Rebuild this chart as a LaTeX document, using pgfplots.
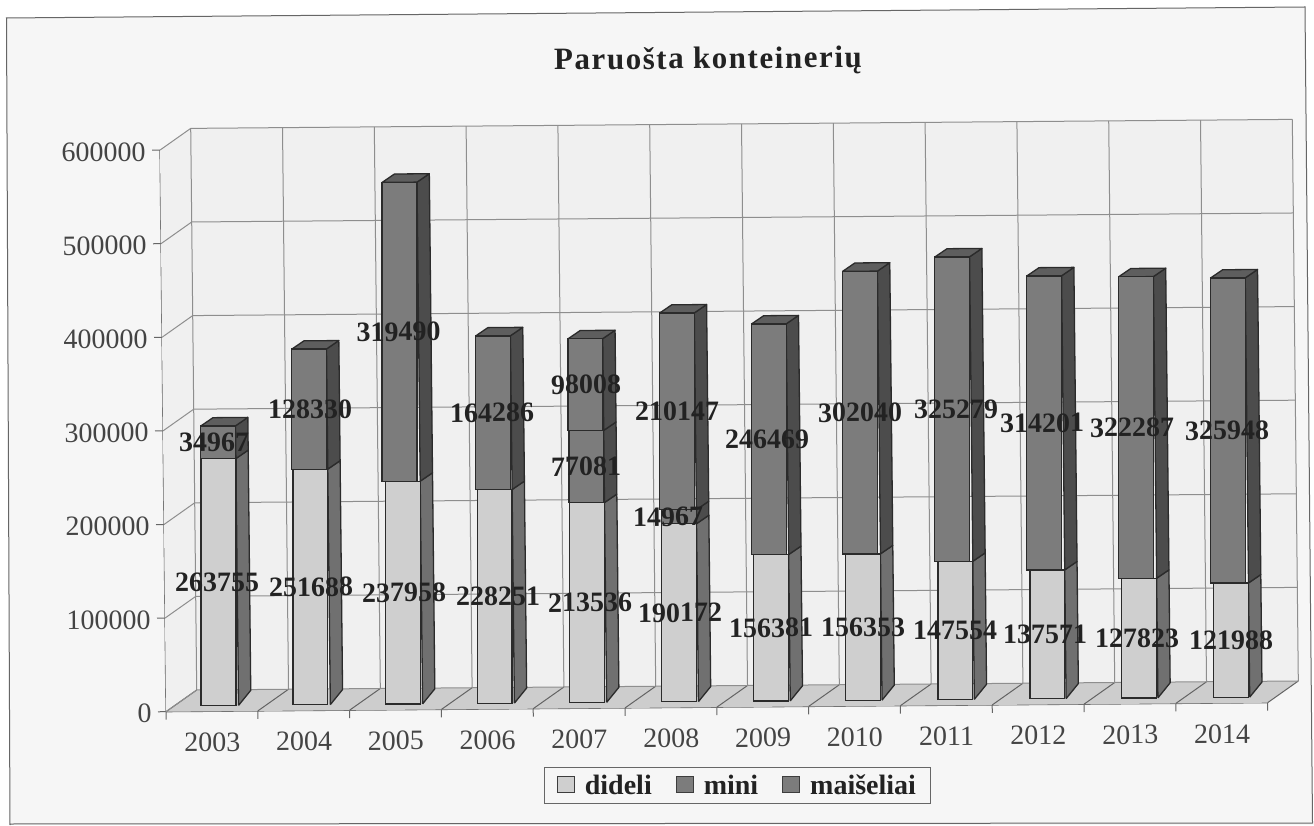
\documentclass[border=0pt]{standalone}
\usepackage{pgfplots}
\usepackage{pgfplotstable}
\usepackage{fontspec}
\setmainfont{Liberation Serif}
\pgfplotsset{compat=1.18}
\definecolor{bgc}{HTML}{F6F6F6}
\definecolor{wallc}{HTML}{F0F0F0}
\definecolor{floorc}{HTML}{CDCDCD}
\definecolor{gridc}{HTML}{8E8E8E}
\definecolor{axc}{HTML}{666666}
\definecolor{edgec}{HTML}{2B2B2B}
\definecolor{lightf}{HTML}{CFCFCF}
\definecolor{lights}{HTML}{707070}
\definecolor{darkf}{HTML}{7C7C7C}
\definecolor{darks}{HTML}{4C4C4C}
\definecolor{topc}{HTML}{5E5E5E}
\definecolor{txtc}{HTML}{444444}
\definecolor{lblc}{HTML}{222222}
\newcommand\bigf{\fontsize{28}{30}\selectfont}
% stacked values: dideli, mini, maiseliai
\pgfplotstableread{
x      d      m      s
0.600  263755 34967  0
1.600  251688 128330 0
2.605  237958 319490 0
3.605  228251 164286 0
4.610  213536 77081  98008
5.610  190172 14967  210147
6.610  156381 0      246469
7.610  156353 0      302040
8.615  147554 0      325279
9.615  137571 0      314201
10.615 127823 0      322287
11.615 121988 0      325948
}\barsdata
% label positions: x, y at the middle of the segment, text
\pgfplotstableread{
x      y      label
0.570  131878 263755
0.553  281240 34967
1.593  125844 251688
1.603  315853 128330
2.606  118979 237958
2.576  397703 319490
3.629  114126 228251
3.585  310394 164286
4.630  106768 213536
4.603  252077 77081
4.612  339621 98008
5.609  95086  190172
5.490  197656 14967
5.600  310210 210147
6.599  78190  156381
6.577  279616 246469
7.601  78180  156353
7.593  307373 302040
8.603  73777  147554
8.639  310194 325279
9.583  68786  137571
9.575  294672 314201
10.584 63912  127823
10.554 288967 322287
11.608 60994  121988
11.589 284962 325948
}\labelsdata
\pgfplotsset{base/.style={x={(91.8pt,0.75pt)},y={(-0.01pt,0.936pt)},xmin=0,xmax=12,ymin=0,ymax=600,clip=false,anchor=origin}}
\newcommand\FaceSide[5]{% x, low, high, extra rise at low, colour
  \edef\xa{\fpeval{#1+0.2}}\edef\xb{\fpeval{#1+0.335}}
  \edef\ya{\fpeval{(#2)/1000}}\edef\yb{\fpeval{(#2)/1000+#4}}
  \edef\yc{\fpeval{(#3)/1000+8.87}}\edef\yd{\fpeval{(#3)/1000}}
  \addplot[draw=edgec,line width=1.3pt,fill=#5,forget plot,line join=round] coordinates {(\xa,\ya)(\xb,\yb)(\xb,\yc)(\xa,\yd)(\xa,\ya)};
}
\newcommand\FaceTop[2]{% x, total
  \edef\xa{\fpeval{#1-0.18}}\edef\xb{\fpeval{#1+0.2}}\edef\xc{\fpeval{#1+0.335}}\edef\xd{\fpeval{#1-0.045}}
  \edef\ya{\fpeval{(#2)/1000}}\edef\yb{\fpeval{(#2)/1000+8.87}}
  \addplot[draw=edgec,line width=1.3pt,fill=topc,forget plot,line join=round] coordinates {(\xa,\ya)(\xb,\ya)(\xc,\yb)(\xd,\yb)(\xa,\ya)};
}
\newcommand\BarFaces[4]{% x, d, m, s
  \FaceSide{#1}{0}{#2}{16}{lights}
  \ifnum#3>0 \FaceSide{#1}{#2}{#2+#3}{8.87}{darks}\fi
  \ifnum#4>0 \FaceSide{#1}{#2+#3}{#2+#3+#4}{8.87}{darks}\fi
  \FaceTop{#1}{#2+#3+#4}
}
\begin{document}
\begin{tikzpicture}[x=1pt,y=1pt]
\path[use as bounding box,fill=white] (0,0) rectangle (1314,825);
\fill[bgc] (6.5,807) -- (1305,818) -- (1312.5,2) -- (1314,0) -- (10,0) -- cycle;
\draw[color=axc,line width=1pt] (10,0) -- (6.5,807) -- (1305,818) -- (1312.5,2) -- (10,1);
\node[font=\bfseries\fontsize{31}{33}\selectfont\addfontfeatures{LetterSpace=5},text=lblc,rotate=0.4] at (708,764) {Paruošta konteinerių};
% walls, floor, grid, axes
\begin{axis}[base,at={(166pt,113.3pt)},
  axis lines*=left,
  axis line style={color=axc,line width=1.2pt},
  xtick={0.5,1.5,...,11.5},
  xticklabels={2003,2004,2005,2006,2007,2008,2009,2010,2011,2012,2013,2014},
  minor xtick={0,1,...,12},
  ytick={0,100,...,600},
  yticklabels={0,100000,200000,300000,400000,500000,600000},
  tick align=outside,
  major tick length=8pt,minor tick length=8pt,
  major x tick style={draw=none},
  y tick style={color=axc,line width=1pt},
  minor x tick style={color=axc,line width=1pt},
  tick label style={font=\bigf,text=txtc,rotate=0.4},
  x tick label style={yshift=-10pt},
  y tick label style={xshift=-3pt,yshift=-1.5pt},
]
\addplot[draw=none,fill=wallc,forget plot] coordinates {(0,0)(0.337,22.92)(0.337,622.92)(0,600)(0,0)};
\addplot[draw=none,fill=wallc,forget plot] coordinates {(0.337,22.92)(12.337,22.92)(12.337,622.92)(0.337,622.92)(0.337,22.92)};
\addplot[draw=none,fill=floorc,forget plot] coordinates {(0,0)(12,0)(12.337,22.92)(0.337,22.92)(0,0)};
\pgfplotsinvokeforeach{0,1,2,3,4,5,6,7,8,9,10,11,12}{
  \edef\xa{\fpeval{#1+0.337}}
  \addplot[color=gridc,line width=1pt,forget plot] coordinates {(\xa,22.92)(\xa,622.92)};
  \addplot[color=gridc!70!black,line width=1pt,forget plot] coordinates {(#1,0)(\xa,22.92)};
}
\pgfplotsinvokeforeach{0,100,200,300,400,500,600}{
  \edef\ya{\fpeval{#1+22.92}}
  \addplot[color=gridc,line width=1pt,forget plot] coordinates {(0,#1)(0.337,\ya)};
  \addplot[color=gridc,line width=1pt,forget plot] coordinates {(0.337,\ya)(12.337,\ya)};
}
\end{axis}
% side and top faces of the bars
\begin{axis}[base,at={(166pt,119pt)},hide axis]
\BarFaces{0.590}{263755}{34967}{0}
\BarFaces{1.590}{251688}{128330}{0}
\BarFaces{2.595}{237958}{319490}{0}
\BarFaces{3.595}{228251}{164286}{0}
\BarFaces{4.600}{213536}{77081}{98008}
\BarFaces{5.600}{190172}{14967}{210147}
\BarFaces{6.600}{156381}{0}{246469}
\BarFaces{7.600}{156353}{0}{302040}
\BarFaces{8.605}{147554}{0}{325279}
\BarFaces{9.605}{137571}{0}{314201}
\BarFaces{10.605}{127823}{0}{322287}
\BarFaces{11.605}{121988}{0}{325948}
\end{axis}
% front faces
\begin{axis}[base,at={(166pt,119pt)},hide axis,ybar stacked,bar width=0.38,
  y filter/.expression={y/1000},
  legend columns=3,
  legend style={at={(axis cs:6.215,-90)},anchor=center,draw=axc,fill=bgc,line width=1pt,
    font=\bfseries\bigf,text=lblc,inner xsep=12pt,inner ysep=5pt,
    /tikz/every odd column/.append style={column sep=8pt},
    /tikz/every even column/.append style={column sep=22pt}},
  legend image code/.code={\draw[#1,line width=1pt,draw=axc!60!black] (0pt,-7pt) rectangle (17pt,9pt);},
]
\addplot[draw=edgec,line width=1.3pt,fill=lightf] table[x=x,y=d] {\barsdata};
\addplot[draw=edgec,line width=1.3pt,fill=darkf] table[x=x,y=m] {\barsdata};
\addplot[draw=edgec,line width=1.3pt,fill=darkf] table[x=x,y=s] {\barsdata};
\legend{dideli,mini,maišeliai}
\end{axis}
% data labels
\begin{axis}[base,at={(166pt,119pt)},hide axis,y filter/.expression={y/1000}]
\addplot[draw=none,mark=none,point meta=explicit symbolic,
  nodes near coords,
  every node near coord/.style={anchor=center,font=\bfseries\bigf,text=lblc,rotate=0.4,inner sep=0pt},
] table[x=x,y=y,meta=label] {\labelsdata};
\end{axis}
\end{tikzpicture}
\end{document}
